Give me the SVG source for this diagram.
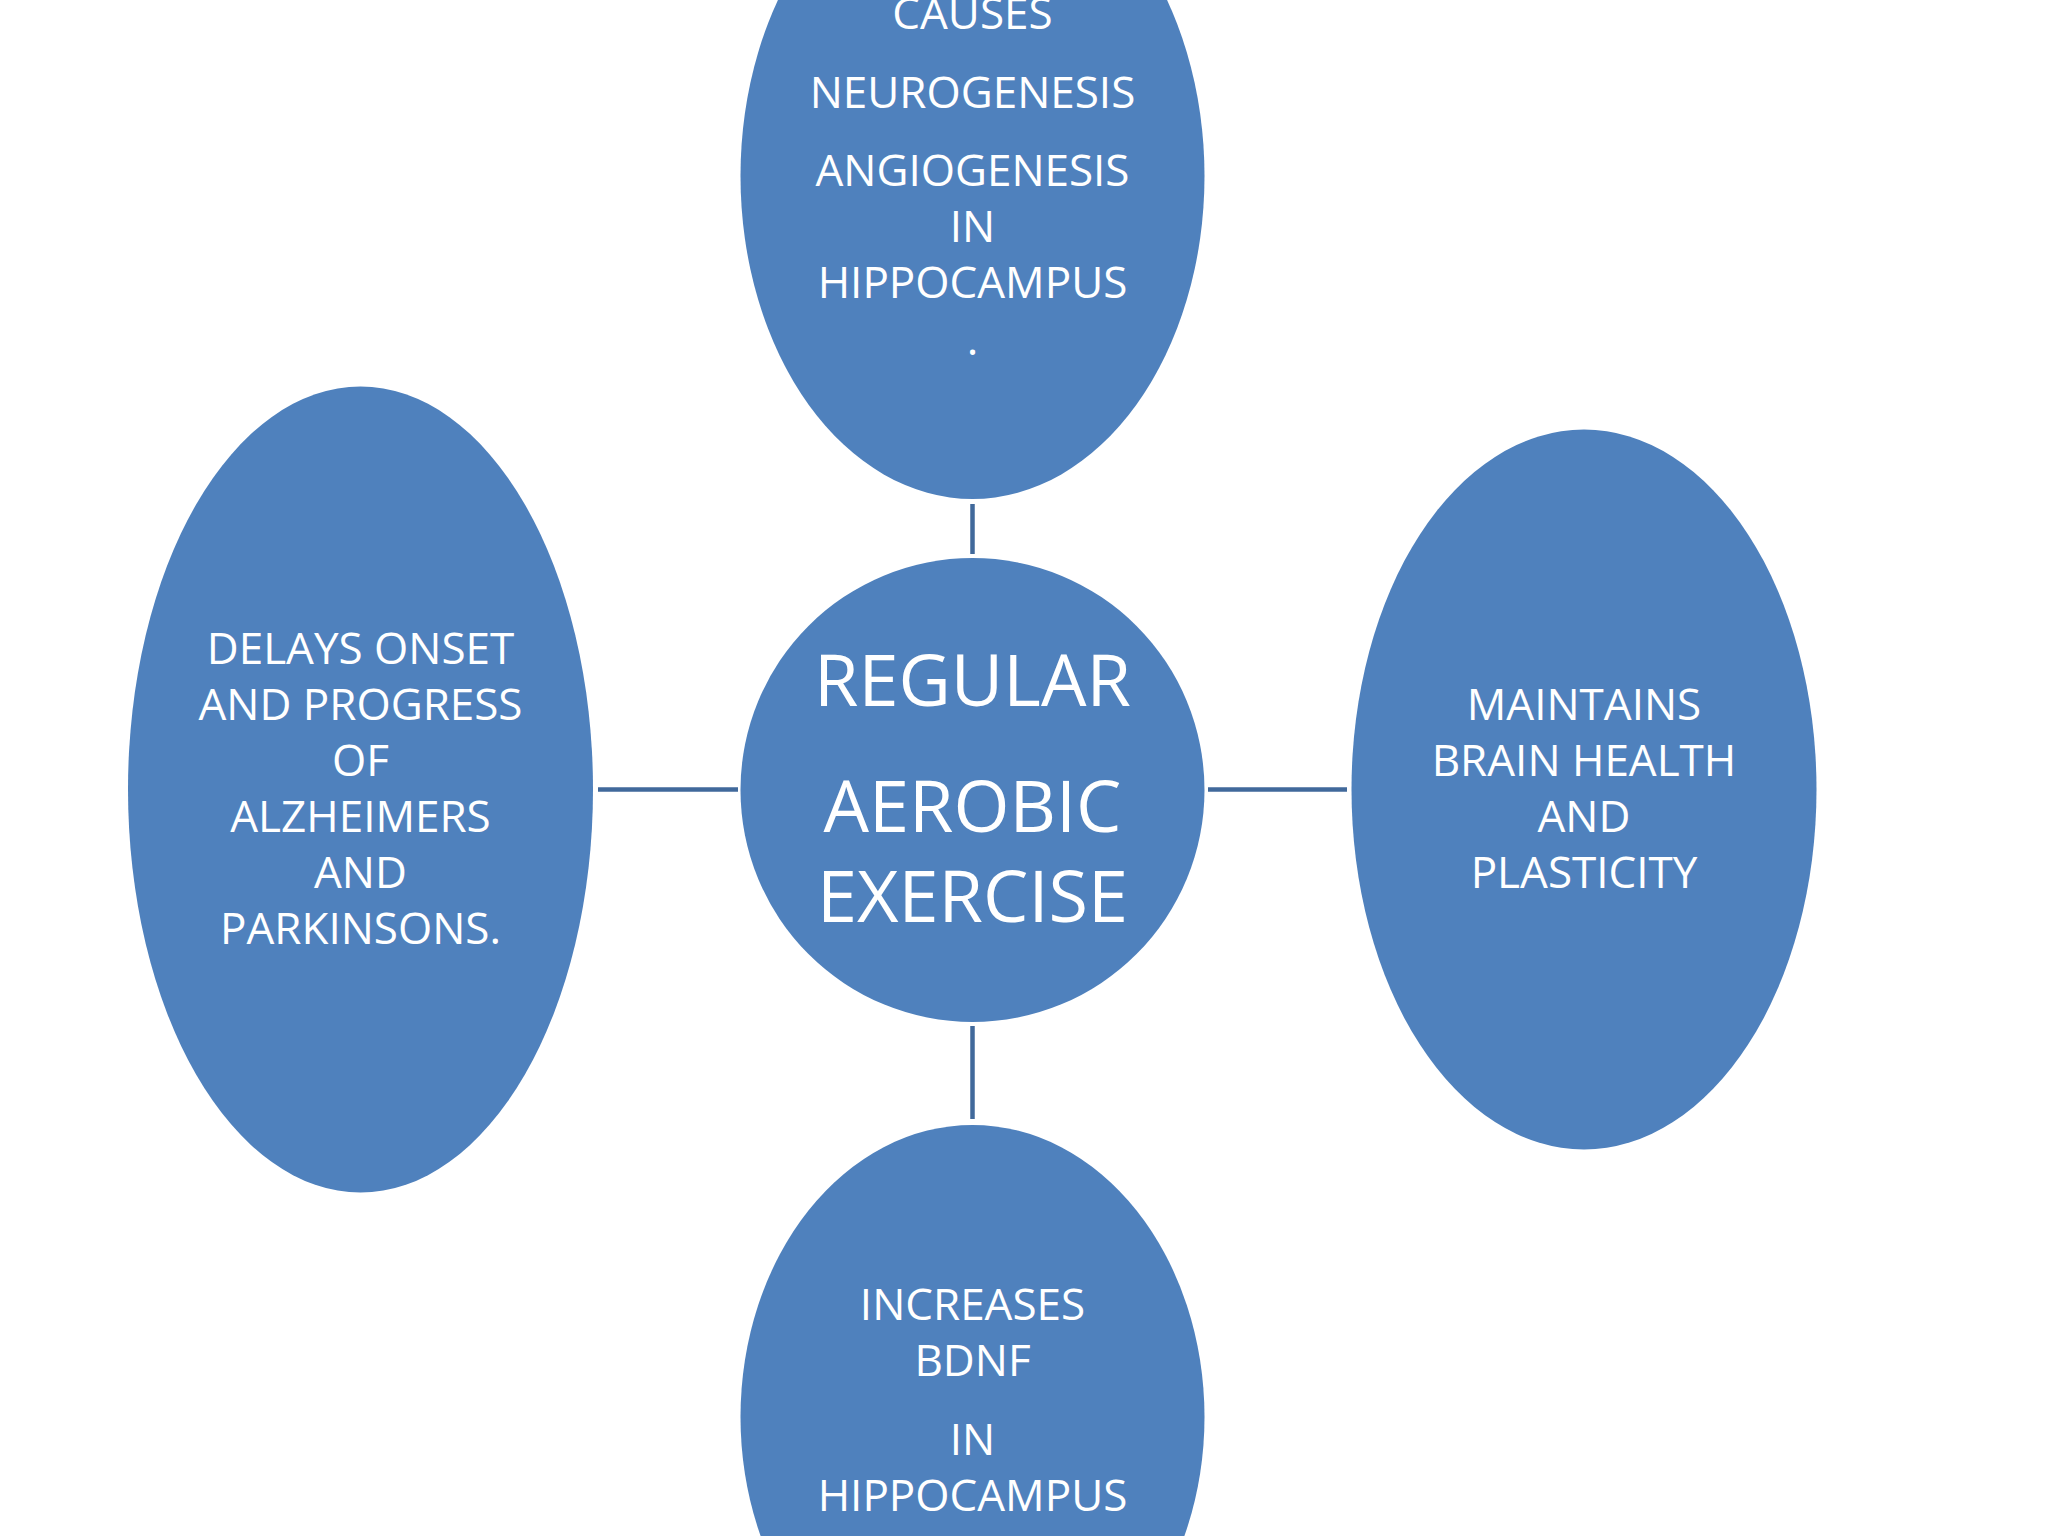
<svg xmlns="http://www.w3.org/2000/svg" width="2048" height="1536" viewBox="0 0 2048 1536">
<style>
.node{fill:#4F81BD}
.t{font-family:"Open Sans","Liberation Sans",sans-serif;fill:#FFFFFF;text-anchor:middle;font-size:44px}
.big{font-size:72px}
.conn{stroke:#41699B;stroke-width:4.5;fill:none}
</style>
<rect width="2048" height="1536" fill="#FFFFFF"/>
<g id="connectors">
<line class="conn" x1="972.5" y1="504" x2="972.5" y2="554"/>
<line class="conn" x1="972.5" y1="1026" x2="972.5" y2="1119"/>
<line class="conn" x1="598" y1="789.5" x2="738" y2="789.5"/>
<line class="conn" x1="1208" y1="789.5" x2="1347" y2="789.5"/>
</g>
<g id="node-top">
<ellipse class="node" cx="972.5" cy="176" rx="232" ry="323"/>
<text class="t" x="972.5" y="29">CAUSES</text>
<text class="t" x="972.5" y="108">NEUROGENESIS</text>
<text class="t" x="972.5" y="186">ANGIOGENESIS</text>
<text class="t" x="972.5" y="242">IN</text>
<text class="t" x="972.5" y="298">HIPPOCAMPUS</text>
<text class="t" x="972.5" y="355">.</text>
</g>
<g id="node-center">
<circle class="node" cx="972.5" cy="790" r="232"/>
<text class="t big" x="972.5" y="706">REGULAR</text>
<text class="t big" x="972.5" y="832">AEROBIC</text>
<text class="t big" x="972.5" y="922">EXERCISE</text>
</g>
<g id="node-left">
<ellipse class="node" cx="360.5" cy="789.5" rx="232.5" ry="403"/>
<text class="t" x="360.5" y="663.5">DELAYS ONSET</text>
<text class="t" x="360.5" y="719.5">AND PROGRESS</text>
<text class="t" x="360.5" y="775.5">OF</text>
<text class="t" x="360.5" y="832">ALZHEIMERS</text>
<text class="t" x="360.5" y="888">AND</text>
<text class="t" x="360.5" y="944">PARKINSONS.</text>
</g>
<g id="node-right">
<ellipse class="node" cx="1584" cy="789.5" rx="232.5" ry="360"/>
<text class="t" x="1584" y="719.5">MAINTAINS</text>
<text class="t" x="1584" y="775.5">BRAIN HEALTH</text>
<text class="t" x="1584" y="832">AND</text>
<text class="t" x="1584" y="888">PLASTICITY</text>
</g>
<g id="node-bottom">
<ellipse class="node" cx="972.5" cy="1417" rx="232" ry="292"/>
<text class="t" x="972.5" y="1320">INCREASES</text>
<text class="t" x="972.5" y="1376">BDNF</text>
<text class="t" x="972.5" y="1455">IN</text>
<text class="t" x="972.5" y="1511">HIPPOCAMPUS</text>
</g>
</svg>
